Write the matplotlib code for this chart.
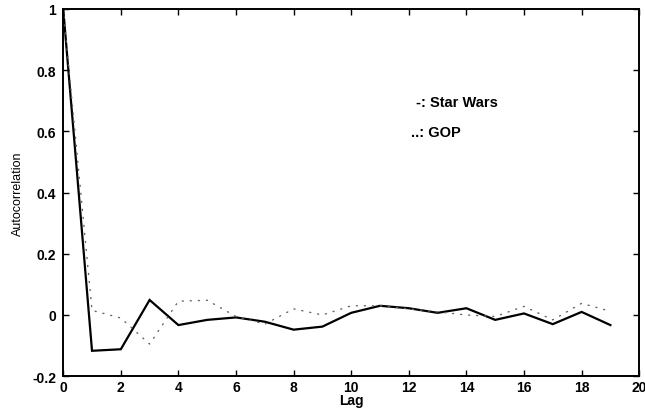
import numpy as np
import matplotlib
matplotlib.use('Agg')
import matplotlib.pyplot as plt

# autocorrelation by lag for the two traces
lags = np.arange(20)
star_wars = [1.0, -0.117, -0.112, 0.049, -0.033, -0.016, -0.008, -0.022, -0.048, -0.038,
             0.007, 0.030, 0.022, 0.007, 0.022, -0.016, 0.005, -0.030, 0.010, -0.033]
gop = [1.0, 0.015, -0.010, -0.095, 0.045, 0.048, -0.005, -0.030, 0.020, 0.000,
       0.030, 0.030, 0.020, 0.010, 0.000, -0.005, 0.028, -0.016, 0.038, 0.012]

xticks = np.arange(0, 21, 2)
yticks = [-0.2, 0, 0.2, 0.4, 0.6, 0.8, 1]
ytick_labels = ['-0.2', '0', '0.2', '0.4', '0.6', '0.8', '1']

plt.rcParams['font.family'] = ['Liberation Sans', 'DejaVu Sans']
plt.rcParams['axes.unicode_minus'] = False

fig = plt.figure(figsize=(6.45, 4.10), dpi=100)
ax = fig.add_axes([0.098, 0.080, 0.893, 0.896])

ax.plot(lags, star_wars, color='black', linewidth=1.6, solid_joinstyle='miter')
ax.plot(lags, gop, color='0.4', linewidth=1.0, linestyle=(0, (0.8, 5)),
        dash_capstyle='round')

ax.set_xlim(0, 20)
ax.set_ylim(-0.2, 1)
ax.set_xticks(xticks)
ax.set_yticks(yticks)
ax.set_yticklabels(ytick_labels)

for lbl in ax.get_xticklabels() + ax.get_yticklabels():
    lbl.set_fontweight('bold')
    lbl.set_fontsize(10)

ax.tick_params(direction='in', length=4, width=1, top=True, right=True,
               colors='black')
ax.tick_params(axis='x', pad=3)
ax.tick_params(axis='y', pad=5)
for s in ax.spines.values():
    s.set_linewidth(1.4)

ax.set_xlabel('Lag', fontsize=10, fontweight='bold', labelpad=-1)
ax.set_ylabel('Autocorrelation', fontsize=9,
              family=['Liberation Sans Narrow', 'Liberation Sans'], labelpad=6)

ax.text(0.613, 0.747, '-: Star Wars', transform=ax.transAxes, fontsize=10.5,
        fontweight='bold', va='center', ha='left')
ax.text(0.604, 0.665, '..: GOP', transform=ax.transAxes, fontsize=10.5,
        fontweight='bold', va='center', ha='left')

fig.savefig('out.png', dpi=100)
